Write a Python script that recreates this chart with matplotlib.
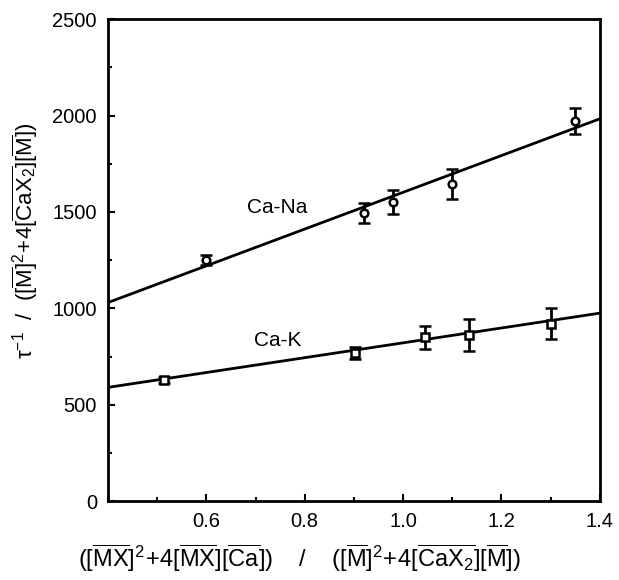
import matplotlib
matplotlib.use("Agg")
import matplotlib.pyplot as plt
from matplotlib.ticker import MultipleLocator

plt.rcParams['font.family'] = ['Liberation Sans', 'DejaVu Sans']
plt.rcParams['mathtext.fontset'] = 'custom'
plt.rcParams['mathtext.rm'] = 'Liberation Sans'
plt.rcParams['mathtext.it'] = 'Liberation Sans:italic'
plt.rcParams['mathtext.default'] = 'regular'

# Ca-Na data (circles)
na_x = [0.60, 0.92, 0.98, 1.10, 1.35]
na_y = [1250, 1495, 1552, 1645, 1972]
na_err = [25, 52, 62, 80, 68]

# Ca-K data (squares)
k_x = [0.514, 0.902, 1.044, 1.134, 1.300]
k_y = [628, 768, 850, 862, 921]
k_err = [15, 32, 60, 85, 80]

# fitted lines
fit_x = [0.4, 1.4]
na_fit = [1030, 1983]
k_fit = [590, 975]

fig = plt.figure(figsize=(6.19, 5.80), dpi=100)
ax = fig.add_axes([0.1745, 0.136, 0.7945, 0.831])

ax.plot(fit_x, na_fit, color='black', lw=2.0)
ax.plot(fit_x, k_fit, color='black', lw=2.0)

ax.errorbar(na_x, na_y, yerr=na_err, fmt='o', ms=5.5, mfc='white', mec='black',
            mew=1.8, ecolor='black', elinewidth=2.0, capsize=4, capthick=2.0)
ax.errorbar(k_x, k_y, yerr=k_err, fmt='s', ms=6, mfc='white', mec='black',
            mew=1.8, ecolor='black', elinewidth=2.0, capsize=4, capthick=2.0)

ax.text(0.743, 1525, 'Ca-Na', fontsize=15, ha='center', va='center')
ax.text(0.745, 835, 'Ca-K', fontsize=15, ha='center', va='center')

ax.set_xlim(0.4, 1.4)
ax.set_ylim(0, 2500)
ax.xaxis.set_major_locator(MultipleLocator(0.2))
ax.xaxis.set_minor_locator(MultipleLocator(0.1))
ax.yaxis.set_major_locator(MultipleLocator(500))
ax.yaxis.set_minor_locator(MultipleLocator(250))
ax.set_xticks([0.6, 0.8, 1.0, 1.2, 1.4])
ax.set_xticklabels(['0.6', '0.8', '1.0', '1.2', '1.4'])

ax.tick_params(which='both', direction='in', top=False, right=False,
               labelsize=14.5, width=1.5, pad=8)
ax.tick_params(which='major', length=5)
ax.tick_params(which='minor', length=3)
for s in ax.spines.values():
    s.set_linewidth(2.0)

ax.set_xlabel(r'$([\overline{MX}]^2\!+\!4[\overline{MX}][\overline{Ca}])$    /    '
              r'$([\overline{M}]^2\!+\!4[\overline{CaX_2}][\overline{M}])$',
              fontsize=17)
ax.set_ylabel(r'$\tau^{-1}$  /  $([\overline{M}]^2\!+\!4[\overline{CaX_2}][\overline{M}])$',
              fontsize=16)
ax.xaxis.set_label_coords(0.39, -0.086)
ax.yaxis.set_label_coords(-0.138, 0.54)

fig.savefig('out.png', dpi=100)
